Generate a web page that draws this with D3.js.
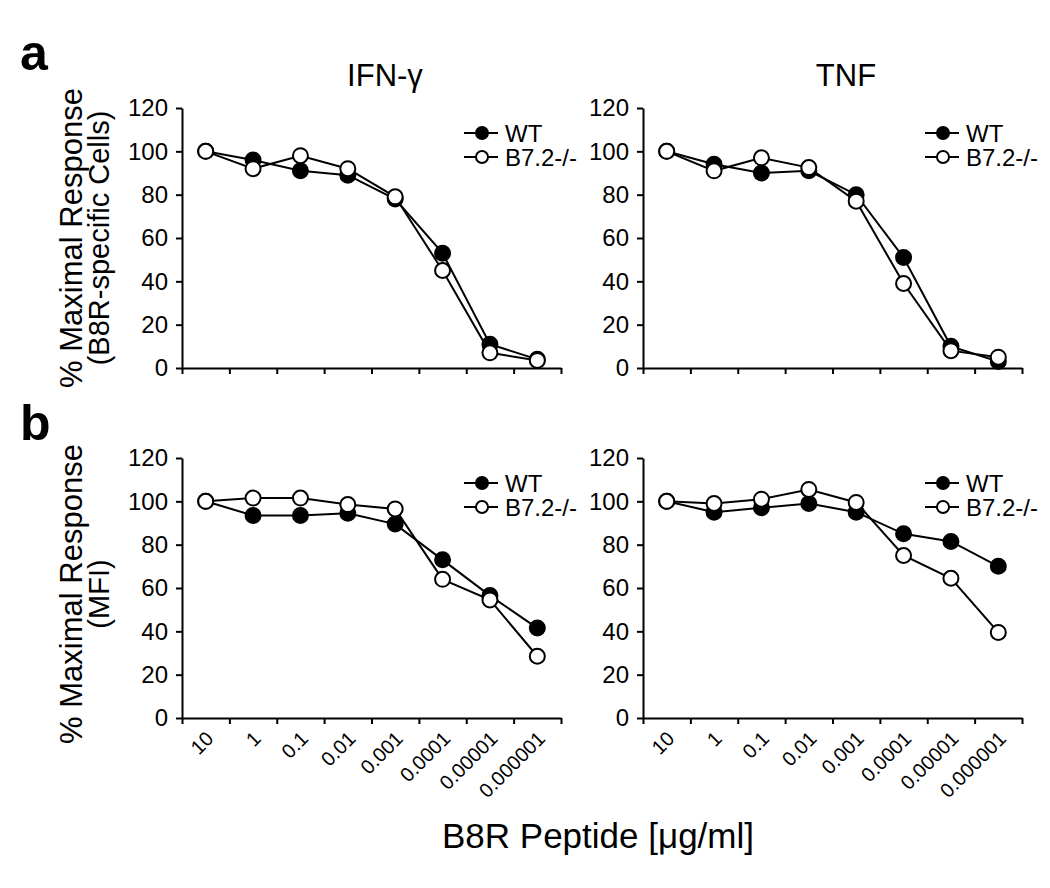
<!DOCTYPE html>
<html>
<head>
<meta charset="utf-8">
<script src="https://cdn.jsdelivr.net/npm/d3@7/dist/d3.min.js"></script>
<style>
  body { margin: 0; background: #fff; }
  svg { font-family: "Liberation Sans", Arial, sans-serif; }
</style>
</head>
<body>
<script>
// peptide doses (x categories)
var doses = ["10", "1", "0.1", "0.01", "0.001", "0.0001", "0.00001", "0.000001"];
var yTicks = [0, 20, 40, 60, 80, 100, 120];
var seriesNames = ["WT", "B7.2-/-"];

// a: % B8R-specific cells
var ifnWT = [100, 96, 91, 89, 78, 53, 11, 4];
var ifnKO = [100, 92, 98, 92, 79, 45, 7, 3.5];
var tnfWT = [100, 94, 90, 91, 80, 51, 10, 3];
var tnfKO = [100, 91, 97, 92.5, 77, 39, 8, 5];
// b: MFI
var mfiIfnWT = [100, 93.5, 93.5, 94.5, 89.5, 73, 56.5, 41.5];
var mfiIfnKO = [100, 101.5, 101.5, 98.5, 96.5, 64, 54.5, 28.5];
var mfiTnfWT = [100, 95, 97, 99, 95, 85, 81.5, 70];
var mfiTnfKO = [100, 99, 101, 105.5, 99.5, 75, 64.5, 39.5];

var W = 379, H = 260;

var svg = d3.select('body').append('svg')
    .attr('width', 1050)
    .attr('height', 888);

var x = d3.scaleBand().domain(doses).range([0, W]);
var xTick = d3.scaleLinear().domain([0, doses.length]).range([0, W]);
var y = d3.scaleLinear().domain([0, 120]).range([H, 0]);

var line = d3.line()
    .x(function (d, i) { return x(doses[i]) + x.bandwidth() / 2; })
    .y(function (d) { return y(d); });

var panels = [
    {left: 182, top: 108, wt: ifnWT, ko: ifnKO, title: "IFN-\u03b3", labels: false},
    {left: 643, top: 108, wt: tnfWT, ko: tnfKO, title: "TNF", labels: false},
    {left: 182, top: 458, wt: mfiIfnWT, ko: mfiIfnKO, title: null, labels: true},
    {left: 643, top: 458, wt: mfiTnfWT, ko: mfiTnfKO, title: null, labels: true}
];

panels.forEach(function (p) {
    var g = svg.append('g').attr('transform', 'translate(' + p.left + ',' + p.top + ')');

    // y axis
    var ya = g.append('g')
        .call(d3.axisLeft(y).tickValues(yTicks).tickSize(6).tickSizeOuter(0).tickPadding(8));
    ya.selectAll('text').style('font-size', '24px').attr('fill', '#000');

    // x axis ticks at band edges
    g.append('g').attr('transform', 'translate(0,' + H + ')')
        .call(d3.axisBottom(xTick).ticks(doses.length).tickSize(6).tickSizeOuter(0).tickFormat(''));

    g.selectAll('.domain, .tick line')
        .attr('stroke', '#000')
        .attr('stroke-width', 2);

    if (p.labels) {
        g.selectAll('.dose')
            .data(doses)
            .enter()
            .append('text')
            .attr('class', 'dose')
            .attr('transform', function (d) {
                return 'translate(' + (x(d) + x.bandwidth() / 2 + 9) + ',' + (H + 22) + ') rotate(-45)';
            })
            .attr('text-anchor', 'end')
            .style('font-size', '20px')
            .text(function (d) { return d; });
    }

    if (p.title) {
        svg.append('text')
            .attr('x', p.left + 203)
            .attr('y', 86)
            .attr('text-anchor', 'middle')
            .style('font-size', '31px')
            .text(p.title);
    }

    // series: WT filled, B7.2-/- open
    [[p.wt, '#000'], [p.ko, '#fff']].forEach(function (s) {
        g.append('path')
            .datum(s[0])
            .attr('d', line)
            .attr('fill', 'none')
            .attr('stroke', '#000')
            .attr('stroke-width', 2);
        g.selectAll(null)
            .data(s[0])
            .enter()
            .append('circle')
            .attr('cx', function (d, i) { return x(doses[i]) + x.bandwidth() / 2; })
            .attr('cy', function (d) { return y(d); })
            .attr('r', 7.5)
            .attr('fill', s[1])
            .attr('stroke', '#000')
            .attr('stroke-width', 2);
    });

    // legend
    var lg = g.append('g').attr('transform', 'translate(282,25)');
    seriesNames.forEach(function (n, i) {
        var row = lg.append('g').attr('transform', 'translate(0,' + (i * 24) + ')');
        row.append('line').attr('x1', 0).attr('x2', 34).attr('stroke', '#000').attr('stroke-width', 2);
        row.append('circle').attr('cx', 18).attr('r', 6)
            .attr('fill', i === 0 ? '#000' : '#fff')
            .attr('stroke', '#000').attr('stroke-width', 2);
        row.append('text').attr('x', 41).attr('dy', '0.36em')
            .style('font-size', '24px').text(n);
    });
});

// y titles
function yTitle(lines, cy) {
    var t = svg.append('g').attr('transform', 'translate(0,' + cy + ') rotate(-90)');
    lines.forEach(function (l) {
        t.append('text')
            .attr('x', 0)
            .attr('y', l[1])
            .attr('text-anchor', 'middle')
            .style('font-size', l[2] + 'px')
            .text(l[0]);
    });
}
yTitle([["% Maximal Response", 82, 31], ["(B8R-specific Cells)", 109, 29]], 238);
yTitle([["% Maximal Response", 82, 31], ["(MFI)", 109, 29]], 594);

// panel letters
svg.append('text').attr('x', 20).attr('y', 70).style('font-size', '50px').style('font-weight', 'bold').text('a');
svg.append('text').attr('x', 20).attr('y', 440).style('font-size', '50px').style('font-weight', 'bold').text('b');

// x title
svg.append('text')
    .attr('x', 598)
    .attr('y', 848)
    .attr('text-anchor', 'middle')
    .style('font-size', '35px')
    .text('B8R Peptide [\u03bcg/ml]');
</script>
</body>
</html>
